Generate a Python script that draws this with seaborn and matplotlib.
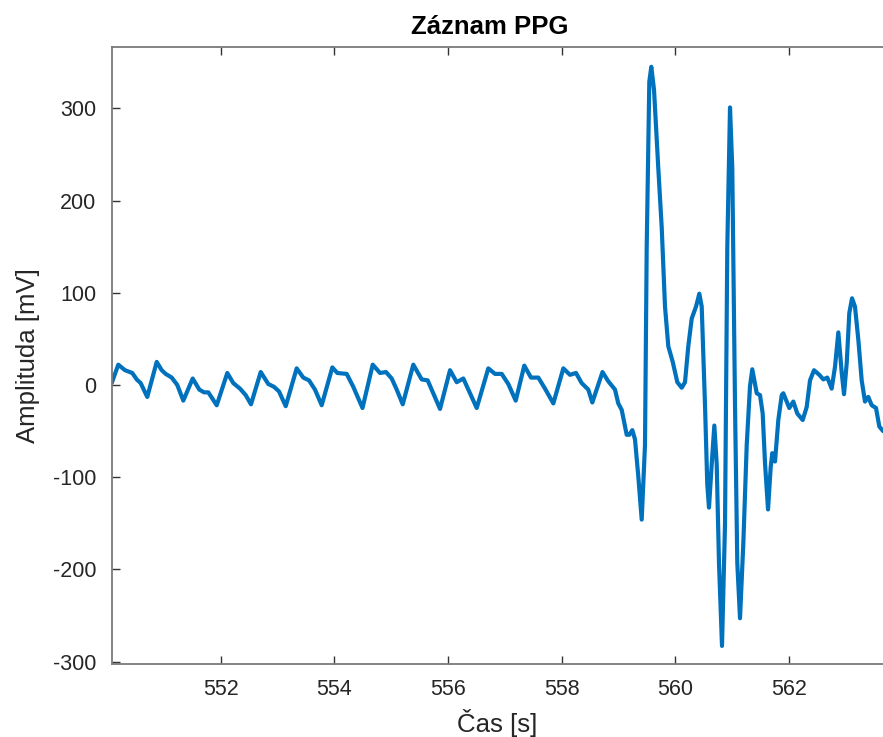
import numpy as np
import pandas as pd
import matplotlib
matplotlib.use("Agg")
import matplotlib.pyplot as plt
import seaborn as sns

# Time samples [s]
time_s = [
    550.080, 550.196, 550.314, 550.402, 550.442, 550.520, 550.590, 550.706,
    550.872, 550.960, 551.030, 551.136, 551.234, 551.340, 551.505, 551.621,
    551.704, 551.780, 551.928, 552.114, 552.220, 552.338, 552.438, 552.531,
    552.702, 552.836, 552.936, 553.024, 553.142, 553.335, 553.451, 553.552,
    553.657, 553.775, 553.962, 554.050, 554.215, 554.331, 554.493, 554.673,
    554.801, 554.907, 555.007, 555.095, 555.201, 555.387, 555.535, 555.640,
    555.751, 555.857, 556.033, 556.151, 556.267, 556.385, 556.503, 556.707,
    556.825, 556.943, 557.059, 557.189, 557.340, 557.458, 557.587, 557.705,
    557.851, 558.027, 558.144, 558.250, 558.350, 558.466, 558.537, 558.716,
    558.818, 558.936, 558.994, 559.054, 559.142, 559.188, 559.241, 559.288,
    559.346, 559.406, 559.464, 559.494, 559.540, 559.575, 559.623, 559.698,
    559.758, 559.816, 559.874, 559.952, 560.033, 560.110, 560.168, 560.226,
    560.286, 560.362, 560.420, 560.462, 560.520, 560.560, 560.590, 560.638,
    560.684, 560.726, 560.766, 560.819, 560.872, 560.912, 560.960, 561.000,
    561.048, 561.088, 561.136, 561.194, 561.254, 561.312, 561.352, 561.430,
    561.488, 561.535, 561.576, 561.629, 561.676, 561.704, 561.752, 561.810,
    561.870, 561.898, 561.958, 562.003, 562.074, 562.144, 562.239, 562.309,
    562.368, 562.438, 562.531, 562.602, 562.672, 562.749, 562.808, 562.866,
    562.926, 562.966, 563.014, 563.059, 563.107, 563.159, 563.218, 563.277,
    563.335, 563.393, 563.453, 563.529, 563.587, 563.652,
]

# Amplitude [mV]
amplitude_mv = [
    2, 22, 16, 14, 13, 6, 2, -13,
    25, 16, 12, 8, 0, -17, 7, -5,
    -8, -8, -22, 13, 2, -4, -11, -21,
    14, 1, -2, -7, -23, 18, 8, 5,
    -5, -22, 19, 13, 12, -2, -25, 22,
    13, 14, 7, -5, -21, 22, 6, 5,
    -11, -26, 16, 3, 7, -9, -25, 18,
    12, 12, 1, -17, 21, 8, 8, -4,
    -20, 18, 11, 13, 2, -5, -19, 14,
    4, -5, -20, -27, -54, -54, -49, -59,
    -99, -146, -65, 149, 329, 345, 320, 235,
    171, 85, 42, 25, 3, -3, 3, 42,
    72, 85, 99, 85, -22, -108, -133, -86,
    -44, -86, -193, -283, -151, 149, 301, 235,
    -22, -193, -253, -172, -65, -1, 17, -9,
    -11, -31, -85, -135, -89, -74, -83, -38,
    -11, -9, -18, -25, -18, -31, -38, -24,
    5, 16, 11, 6, 8, -4, 20, 57,
    13, -10, 24, 78, 94, 85, 49, 5,
    -18, -13, -22, -25, -45, -50,
]

x_ticks = [552, 554, 556, 558, 560, 562]
y_ticks = [-300, -200, -100, 0, 100, 200, 300]

df = pd.DataFrame({"t": time_s, "a": amplitude_mv})

sns.set_style("white")
plt.rcParams["font.family"] = ["Liberation Sans", "DejaVu Sans"]
plt.rcParams["axes.unicode_minus"] = False

W, H = 883, 737
fig = plt.figure(figsize=(W / 100, H / 100), dpi=100)
left_px, right_px, top_px, bottom_px = 111.7, 883.0, 47.0, 664.0
ax = fig.add_axes([left_px / W, 1 - bottom_px / H,
                   (right_px - left_px) / W, (bottom_px - top_px) / H])

sns.lineplot(data=df, x="t", y="a", ax=ax, color="#0072BD",
             linewidth=3.0, sort=False, estimator=None,
             solid_joinstyle="round", solid_capstyle="round")

ax.set_xlim(550.08, 563.652)
ax.set_ylim(-302.6, 366.5)
ax.set_xticks(x_ticks)
ax.set_yticks(y_ticks)
ax.set_xticklabels([str(v) for v in x_ticks])
ax.set_yticklabels([str(v) for v in y_ticks])

spine_color = "#7a7a7a"
for side in ["left", "bottom", "top"]:
    ax.spines[side].set_visible(True)
    ax.spines[side].set_color(spine_color)
    ax.spines[side].set_linewidth(1.3)
ax.spines["right"].set_visible(False)

ax.tick_params(axis="x", direction="in", length=5.5, width=1.0, color="#333333",
               labelsize=15.5, labelcolor="#262626", pad=11, top=True, bottom=True)
ax.tick_params(axis="y", direction="in", length=5.5, width=1.0, color="#333333",
               labelsize=15.5, labelcolor="#262626", pad=11, left=True, right=False)

ax.set_xlabel("Čas [s]", fontsize=18.5, color="#262626", labelpad=6)
ax.set_ylabel("Amplituda [mV]", fontsize=18.5, color="#262626", labelpad=9)
ax.set_title("Záznam PPG", fontsize=18.5, fontweight="bold", color="black",
             x=0.49, pad=9)

fig.savefig("out.png", dpi=100)
